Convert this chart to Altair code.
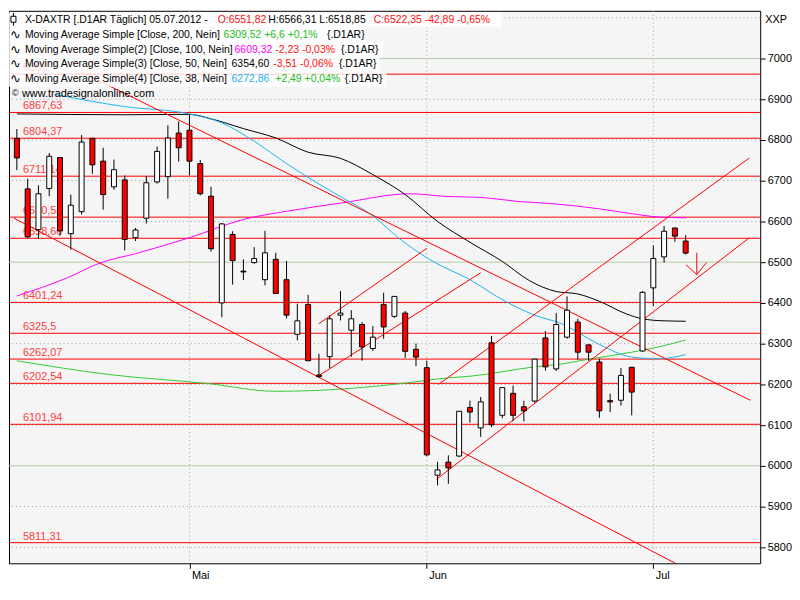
import altair as alt
import pandas as pd

# ---------------- data ----------------
opens  = [6804, 6680, 6580, 6681, 6757, 6570, 6624, 6804, 6748, 6685,
          6702, 6560, 6608, 6697, 6710, 6817, 6824, 6742, 6662, 6400,
          6568, 6478, 6499, 6457, 6507, 6457, 6323, 6396, 6223, 6268,
          6370, 6333, 6347, 6288, 6396, 6367, 6375, 6286, 6241, 5977,
          6009, 6024, 6143, 6093, 6302, 6124, 6178, 6145, 6159, 6314,
          6238, 6316, 6353, 6297, 6255, 6160, 6161, 6242, 6282, 6437,
          6513, 6584, 6551.82]
highs  = [6827, 6705, 6689, 6768, 6758, 6666, 6812, 6805, 6781, 6752,
          6713, 6584, 6712, 6784, 6836, 6846, 6862, 6751, 6685, 6596,
          6576, 6507, 6537, 6577, 6523, 6503, 6398, 6420, 6275, 6369,
          6429, 6382, 6353, 6343, 6425, 6416, 6380, 6300, 6258, 6010,
          6026, 6134, 6160, 6169, 6319, 6192, 6197, 6160, 6262, 6331,
          6375, 6416, 6361, 6297, 6263, 6177, 6240, 6242, 6429, 6541,
          6589, 6584, 6566.31]
lows   = [6726, 6560, 6558, 6662, 6565, 6531, 6617, 6717, 6629, 6678,
          6529, 6552, 6595, 6693, 6656, 6747, 6713, 6664, 6526, 6365,
          6445, 6456, 6496, 6443, 6422, 6362, 6308, 6258, 6216, 6240,
          6357, 6268, 6258, 6282, 6312, 6363, 6265, 6245, 6024, 5952,
          5956, 6022, 6106, 6071, 6095, 6117, 6110, 6109, 6155, 6234,
          6233, 6312, 6261, 6258, 6118, 6132, 6148, 6124, 6280, 6392,
          6499, 6550, 6518.85]
closes = [6756, 6562, 6668, 6760, 6577, 6640, 6795, 6739, 6666, 6727,
          6556, 6579, 6695, 6772, 6805, 6781, 6748, 6668, 6533, 6594,
          6504, 6476, 6509, 6523, 6423, 6370, 6356, 6258, 6219, 6361,
          6375, 6361, 6292, 6316, 6341, 6416, 6281, 6267, 6027, 5990,
          5995, 6134, 6132, 6157, 6101, 6192, 6124, 6135, 6262, 6243,
          6347, 6382, 6279, 6279, 6135, 6157, 6222, 6181, 6426, 6509,
          6576, 6564, 6522.35]

month_idx = [16, 38, 59]
month_names = ["Mai", "Jun", "Jul"]

ma200_idx = [0, 8.6, 17.7, 24, 27.7, 35, 40, 42, 48, 50.5, 52.6, 57, 59.5, 62]
ma200_val = [6258, 6224, 6202, 6183, 6185, 6200, 6216, 6220, 6243, 6250, 6260, 6279, 6292, 6309]

ma100_idx = [0, 4.7, 7.7, 11, 16, 21, 25, 30, 36.5, 39.5, 43.5, 46.5, 49.5, 54, 57, 59.5, 62]
ma100_val = [6417, 6462, 6498, 6521, 6560, 6605, 6625, 6645, 6668, 6662, 6658, 6649, 6644, 6631, 6619, 6611, 6609]

ma50_idx = [0, 10, 16, 18, 21, 24, 27, 30, 33, 36, 39, 42, 45, 47.5, 50, 52, 54, 56.5, 58, 60, 62]
ma50_val = [6864, 6862, 6863, 6852, 6828, 6805, 6770, 6755, 6715, 6666, 6600, 6549, 6502, 6455,
            6428, 6422, 6404, 6373, 6361, 6356, 6355]

ma38_idx = [3.5, 10, 16, 19, 22, 25, 28, 30, 33, 35.5, 38.5, 42, 45, 48, 50.5, 54, 57, 59.5, 62]
ma38_val = [6912, 6882, 6864, 6842, 6797, 6742, 6692, 6661, 6614, 6557, 6503, 6457, 6408, 6370,
            6349, 6298, 6267, 6263, 6273]

levels = [6961.7, 6867.63, 6804.37, 6711.14, 6610.58, 6558.66, 6401.24, 6325.5,
          6262.07, 6202.54, 6101.94, 5811.31]
level_labels = ["6961,7", "6867,63", "6804,37", "6711,14", "6610,58", "6558,66", "6401,24",
                "6325,5", "6262,07", "6202,54", "6101,94", "5811,31"]

trend_ids = ["A", "A", "B", "B", "C1", "C1", "C2", "C2", "C3", "C3", "C4", "C4"]
trend_idx = [6, 68, -0.27, 61.1, 28.0, 38.0, 27.9, 43.0, 39.1, 67.9, 38.9, 67.9]
trend_val = [6966, 6161, 6608, 5760, 6349, 6534, 6220, 6474, 6200, 6756, 5967, 6560]

arrow_ids = ["s", "s", "h", "h", "h"]
arrow_idx = [63.03, 63.03, 62.03, 63.03, 63.94]
arrow_val = [6523.5, 6469.5, 6493.7, 6469.5, 6499.3]

y_ticks = list(range(5800, 7001, 100))
grid_vals = list(range(5800, 7101, 100))
solid_grid = [6000, 6500, 7000]

header = [("X-DAXTR [.D1AR  Täglich] 05.07.2012 -", "black"), ("O:6551,82", "red"),
          ("H:6566,31 L:6518,85", "black"), ("C:6522,35 -42,89 -0,65%", "red")]
legend_rows = [
    [("Moving Average Simple [Close, 200, Nein]", "black"), ("6309,52 +6,6 +0,1%", "green"), ("{.D1AR}", "black")],
    [("Moving Average Simple(2) [Close, 100, Nein]", "black"), ("6609,32", "magenta"), ("-2,23 -0,03%", "red"), ("{.D1AR}", "black")],
    [("Moving Average Simple(3) [Close, 50, Nein]", "black"), ("6354,60", "black"), ("-3,51 -0,06%", "red"), ("{.D1AR}", "black")],
    [("Moving Average Simple(4) [Close, 38, Nein]", "black"), ("6272,86", "blue"), ("+2,49 +0,04%", "green"), ("{.D1AR}", "black")],
]

# ---------------- styling / layout ----------------
COL = {"black": "#000000", "red": "#ff1010", "green": "#22c022", "magenta": "#ff00ff", "blue": "#1eb4f0"}
FONT = "Liberation Sans"
W, H = 756, 556
X = alt.Scale(domain=[-0.27, 68.45], nice=False, zero=False)
Y = alt.Scale(domain=[5760.7, 7117.2], nice=False, zero=False)

header_x = [16, 210, 261, 367]
row_x = [[16, 216, 320], [16, 227, 268, 334], [16, 224, 266, 332], [16, 224, 268, 338]]
row_y = [9, 24, 39, 54, 69]
row_box_right = [496, 360, 377, 373, 380]


def xq(f):
    return alt.X(f"{f}:Q", scale=X, axis=None)


def yq(f):
    return alt.Y(f"{f}:Q", scale=Y, axis=None)


one = alt.Data(values=[{}])


def txt(t, x, y, color="#000000", size=10.5, align="left", font=FONT):
    return alt.Chart(one).mark_text(text=t, align=align, baseline="middle", font=font,
                                    fontSize=size, color=color).encode(x=alt.value(x), y=alt.value(y))


def box(x1, y1, x2, y2, opacity=0.8):
    return alt.Chart(one).mark_rect(color="white", opacity=opacity).encode(
        x=alt.value(x1), x2=alt.value(x2), y=alt.value(y1), y2=alt.value(y2))


# ---------------- tables ----------------
n = len(opens)
cdf = pd.DataFrame({"i": list(range(n)), "o": opens, "h": highs, "l": lows, "c": closes})
cdf["fill"] = ["#ff0000" if c < o else "#ffffff" for o, c in zip(opens, closes)]

ma_df = pd.concat([
    pd.DataFrame({"i": ma200_idx, "v": ma200_val, "s": "ma200"}),
    pd.DataFrame({"i": ma100_idx, "v": ma100_val, "s": "ma100"}),
    pd.DataFrame({"i": ma50_idx, "v": ma50_val, "s": "ma50"}),
    pd.DataFrame({"i": ma38_idx, "v": ma38_val, "s": "ma38"}),
])
ma_colors = alt.Scale(domain=["ma200", "ma100", "ma50", "ma38"],
                      range=["#33cc33", "#ff00ff", "#000000", "#1eb4f0"])

grid_df = pd.DataFrame({"v": [g for g in grid_vals if g not in solid_grid]})
solid_df = pd.DataFrame({"v": solid_grid})
vgrid_df = pd.DataFrame({"i": month_idx})
lev_df = pd.DataFrame({"v": levels, "t": level_labels})
trend_df = pd.DataFrame({"i": trend_idx, "v": trend_val, "id": trend_ids})
arrow_df = pd.DataFrame({"i": arrow_idx, "v": arrow_val, "id": arrow_ids, "k": list(range(len(arrow_ids)))})

label_expr = " : ".join(f"datum.value == {m} ? '{nm}'" for m, nm in zip(month_idx, month_names)) + " : ''"

# ---------------- layers ----------------
grid_dotted = alt.Chart(grid_df).mark_rule(color="#a0a0a0", strokeDash=[1, 3], strokeWidth=1).encode(y=yq("v"))
grid_solid = alt.Chart(solid_df).mark_rule(color="#b4ccac", strokeWidth=1).encode(y=yq("v"))
vgrid = alt.Chart(vgrid_df).mark_rule(color="#a0a0a0", strokeDash=[1, 3], strokeWidth=1).encode(x=xq("i"))

lev_text = alt.Chart(lev_df).mark_text(align="left", baseline="bottom", dy=-1, font=FONT, fontSize=11,
                                       color="#ff3c3c").encode(x=alt.value(14), y=yq("v"), text="t:N")
lev_lines = alt.Chart(lev_df).mark_rule(color="#ff0000", strokeWidth=1).encode(y=yq("v"))

ma_lines = alt.Chart(ma_df).mark_line(strokeWidth=1, interpolate="monotone").encode(
    x=xq("i"), y=yq("v"), color=alt.Color("s:N", scale=ma_colors, legend=None), detail="s:N")

trends = alt.Chart(trend_df).mark_line(color="#ff0000", strokeWidth=1, clip=True).encode(
    x=xq("i"), y=yq("v"), detail="id:N")

wicks = alt.Chart(cdf).mark_rule(color="black", strokeWidth=1).encode(
    x=alt.X("i:Q", scale=X, axis=alt.Axis(values=month_idx, labelExpr=label_expr, title=None, grid=False,
                                           domain=False, tickSize=5, tickColor="black", labelAlign="left",
                                           labelOffset=2, labelPadding=1, labelFlush=False,
                                           labelOverlap=False, labelFont=FONT, labelFontSize=11,
                                           labelColor="black")),
    y=alt.Y("l:Q", scale=Y, axis=alt.Axis(orient="right", values=y_ticks, format="d", title=None,
                                           grid=False, domain=False, tickSize=5, tickColor="black",
                                           labelPadding=2, labelFont=FONT, labelFontSize=11,
                                           labelColor="black", labelOverlap=False)),
    y2="h:Q")
bodies = alt.Chart(cdf).mark_bar(size=5, stroke="black", strokeWidth=1).encode(
    x=xq("i"), y=yq("o"), y2="c:Q", fill=alt.Fill("fill:N", scale=None))

arrow = alt.Chart(arrow_df).mark_line(color="#ff0000", strokeWidth=1).encode(
    x=xq("i"), y=yq("v"), detail="id:N", order="k:Q")

layers = [grid_dotted, grid_solid, vgrid, lev_text, lev_lines, ma_lines, trends, wicks, bodies, arrow]

# watermark
layers.append(txt("©", 3, 83, size=9))
layers.append(txt("www.tradesignalonline.com", 13, 84, size=11))

# legend boxes and text
for k in range(5):
    layers.append(box(0, row_y[k] - 7.5, row_box_right[k], row_y[k] + 7.5))

# row-1 candle icon
layers.append(alt.Chart(one).mark_rule(color="black").encode(x=alt.value(4.5), y=alt.value(2), y2=alt.value(15)))
layers.append(alt.Chart(one).mark_rect(fill="white", stroke="black", strokeWidth=1).encode(
    x=alt.value(2), x2=alt.value(7), y=alt.value(5.5), y2=alt.value(11.5)))

for (t, c), x in zip(header, header_x):
    layers.append(txt(t, x, row_y[0], COL[c]))
for r, row in enumerate(legend_rows):
    layers.append(txt("∿", 1, row_y[r + 1], size=13, font="DejaVu Sans"))
    for (t, c), x in zip(row, row_x[r]):
        layers.append(txt(t, x, row_y[r + 1], COL[c]))

layers.append(txt("XXP", 761, 9, size=11))

chart = alt.layer(*layers).resolve_axis(x="independent", y="independent").properties(
    width=W, height=H, padding=0, background="white"
).configure_view(fill="#f5f5f5", stroke="black", strokeWidth=1)

chart.save("out.html", embed_options={"renderer": "svg", "actions": False})
